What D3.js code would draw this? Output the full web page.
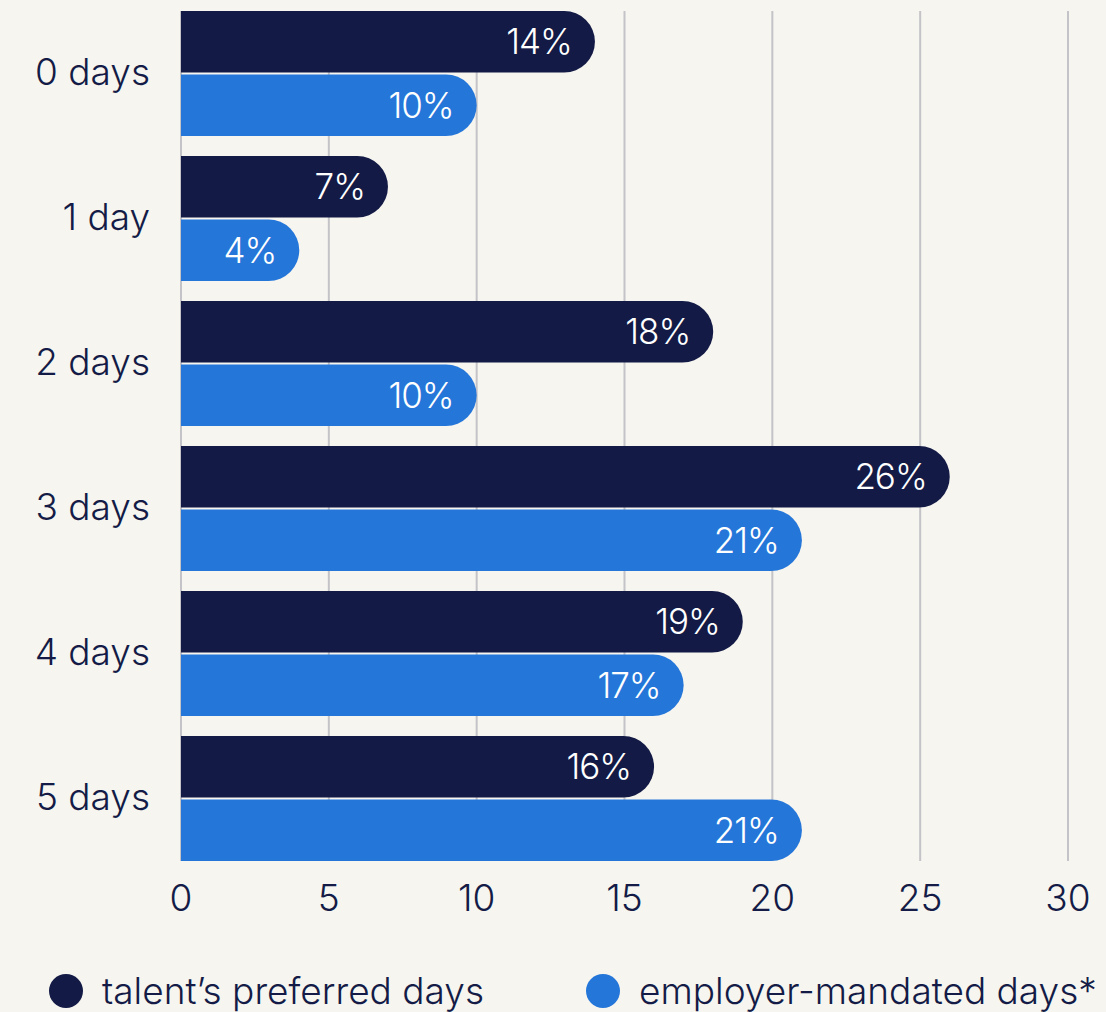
<!DOCTYPE html>
<html>
<head>
<meta charset="utf-8" />
<title></title>
<style>
    body { margin: 0; background: #f6f5f0; }
    svg { display: block; font-family: Inter, "Open Sans", sans-serif; font-weight: 300; }
    .grid line { stroke: #c3c3c8; stroke-width: 2px; }
    .tick-lbl, .cat-lbl, .legend text { fill: #131b46; }
    .val { fill: #fff; }
</style>
</head>
<body>
<div id="container"></div>
<script src="https://cdn.jsdelivr.net/npm/d3@7/dist/d3.min.js"></script>
<script>
var categories = ["0 days", "1 day", "2 days", "3 days", "4 days", "5 days"]
var preferred = [14, 7, 18, 26, 19, 16]   // talent's preferred days
var mandated = [10, 4, 10, 21, 17, 21]    // employer-mandated days*
var ticks = [0, 5, 10, 15, 20, 25, 30]
var seriesNames = ["talent\u2019s preferred days", "employer-mandated days*"]
var colors = ["#121a45", "#2476d9"]

var width = 1106,
    height = 1012,
    margin = { left: 181, top: 11, right: 38, bottom: 151 },
    g_width = width - margin.left - margin.right,
    g_height = height - margin.top - margin.bottom

var svg = d3.select("#container")
    .append("svg")
    .attr("width", width)
    .attr("height", height)

var g = svg.append("g")
    .attr("transform", "translate(" + margin.left + "," + margin.top + ")")

var x = d3.scaleLinear().domain([0, 30]).range([0, g_width])
var y = d3.scaleBand().domain(categories).range([0, g_height])
    .paddingInner(20 / 145).paddingOuter(0)
var y_sub = d3.scaleBand().domain([0, 1]).range([0, y.bandwidth()]).paddingInner(4 / 125)

// grid lines (including the 0 baseline)
g.append("g").attr("class", "grid")
    .selectAll("line")
    .data(ticks)
    .enter().append("line")
    .attr("x1", d => x(d)).attr("x2", d => x(d))
    .attr("y1", 0).attr("y2", g_height)

// tick labels
g.append("g")
    .selectAll("text")
    .data(ticks)
    .enter().append("text")
    .attr("class", "tick-lbl")
    .attr("x", d => x(d))
    .attr("y", g_height + 50)
    .attr("text-anchor", "middle")
    .attr("font-size", "37px")
    .text(d => d)

// category labels
g.append("g")
    .selectAll("text")
    .data(categories)
    .enter().append("text")
    .attr("class", "cat-lbl")
    .attr("x", -31)
    .attr("y", d => y(d) + y.bandwidth() / 2 - 2)
    .attr("dy", "0.36em")
    .attr("text-anchor", "end")
    .attr("font-size", "37px")
    .text(d => d)

// bar path: flat left end, fully rounded right end
function barPath(len, h) {
    var r = h / 2
    var straight = Math.max(len - r, 0)
    return "M0,0H" + straight +
        "A" + r + "," + r + " 0 0 1 " + straight + "," + h +
        "H0Z"
}

var rows = categories.map((c, i) => ({ cat: c, vals: [preferred[i], mandated[i]] }))

var grp = g.selectAll(".row")
    .data(rows)
    .enter().append("g")
    .attr("class", "row")
    .attr("transform", d => "translate(0," + y(d.cat) + ")")

var bar = grp.selectAll(".bar")
    .data(d => d.vals.map((v, k) => ({ v: v, k: k })))
    .enter().append("g")
    .attr("class", "bar")
    .attr("transform", d => "translate(0," + y_sub(d.k) + ")")

bar.append("path")
    .attr("d", d => barPath(x(d.v), y_sub.bandwidth()))
    .attr("fill", d => colors[d.k])

bar.append("text")
    .attr("class", "val")
    .attr("x", d => x(d.v) - 23)
    .attr("y", y_sub.bandwidth() / 2)
    .attr("dy", "0.36em")
    .attr("text-anchor", "end")
    .attr("font-size", "35px")
    .attr("letter-spacing", "-1px")
    .text(d => d.v + "%")

// legend
var legendX = [66, 603]
var legend = svg.append("g").attr("class", "legend")
    .selectAll("g")
    .data(seriesNames)
    .enter().append("g")
    .attr("transform", (d, i) => "translate(" + legendX[i] + ",991)")
legend.append("circle").attr("r", 17).attr("fill", (d, i) => colors[i])
legend.append("text")
    .attr("x", 36)
    .attr("dy", "0.36em")
    .attr("font-size", "37px")
    .text(d => d)
</script>
</body>
</html>
